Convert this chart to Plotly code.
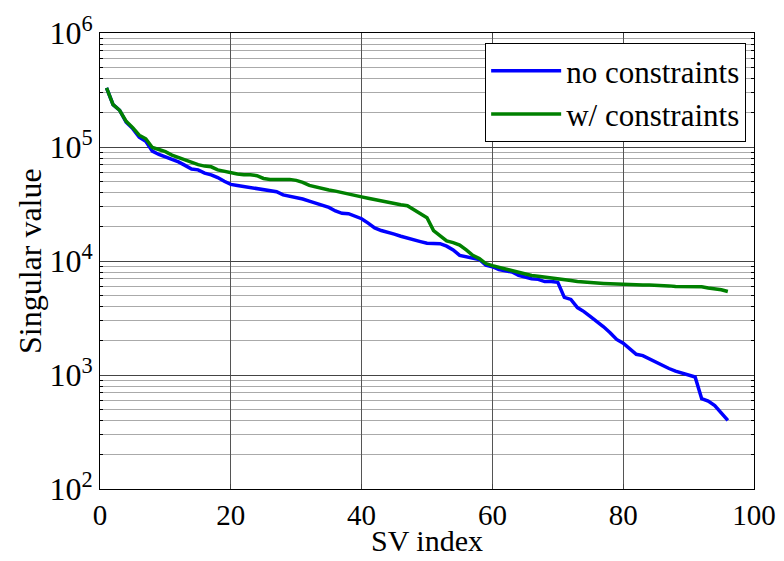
import plotly.graph_objects as go

# Singular values, indices 1..96
sv_index = list(range(1, 97))

no_constraints = [
    3.3e5, 2.35e5, 2.1e5, 1.65e5, 1.45e5, 1.22e5, 1.12e5, 9.2e4, 8.6e4, 8.2e4,
    7.8e4, 7.4e4, 6.9e4, 6.4e4, 6.3e4, 5.9e4, 5.7e4, 5.4e4, 5.0e4, 4.7e4,
    4.6e4, 4.5e4, 4.4e4, 4.3e4, 4.2e4, 4.1e4, 4.05e4, 3.8e4, 3.7e4, 3.6e4,
    3.5e4, 3.35e4, 3.2e4, 3.1e4, 2.95e4, 2.75e4, 2.62e4, 2.6e4, 2.48e4, 2.35e4,
    2.15e4, 1.95e4, 1.85e4, 1.8e4, 1.72e4, 1.65e4, 1.6e4, 1.55e4, 1.48e4, 1.43e4,
    1.43e4, 1.42e4, 1.35e4, 1.25e4, 1.12e4, 1.09e4, 1.06e4, 1.03e4, 9.2e3, 8.9e3,
    8.4e3, 8.2e3, 8.0e3, 7.5e3, 7.2e3, 7.0e3, 6.9e3, 6.6e3, 6.6e3, 6.5e3,
    4.8e3, 4.6e3, 3.9e3, 3.6e3, 3.25e3, 2.95e3, 2.65e3, 2.35e3, 2.05e3, 1.9e3,
    1.7e3, 1.52e3, 1.48e3, 1.38e3, 1.3e3, 1.22e3, 1.14e3, 1.08e3, 1.04e3, 990,
    960, 620, 590, 540, 470, 400,
]

with_constraints = [
    3.3e5, 2.35e5, 2.1e5, 1.68e5, 1.48e5, 1.27e5, 1.18e5, 9.9e4, 9.5e4, 9.1e4,
    8.5e4, 8.1e4, 7.7e4, 7.3e4, 7.0e4, 6.8e4, 6.7e4, 6.3e4, 6.1e4, 5.9e4,
    5.8e4, 5.7e4, 5.7e4, 5.6e4, 5.3e4, 5.2e4, 5.2e4, 5.2e4, 5.2e4, 5.1e4,
    4.9e4, 4.6e4, 4.45e4, 4.3e4, 4.2e4, 4.1e4, 4.0e4, 3.9e4, 3.8e4, 3.65e4,
    3.55e4, 3.45e4, 3.36e4, 3.3e4, 3.2e4, 3.12e4, 3.05e4, 2.8e4, 2.6e4, 2.4e4,
    1.85e4, 1.65e4, 1.5e4, 1.45e4, 1.38e4, 1.25e4, 1.12e4, 1.05e4, 9.5e3, 9.1e3,
    8.8e3, 8.5e3, 8.2e3, 7.9e3, 7.6e3, 7.45e3, 7.35e3, 7.25e3, 7.05e3, 6.95e3,
    6.85e3, 6.75e3, 6.6e3, 6.5e3, 6.45e3, 6.4e3, 6.35e3, 6.3e3, 6.3e3, 6.2e3,
    6.15e3, 6.15e3, 6.15e3, 6.15e3, 6.15e3, 6.15e3, 6.05e3, 5.98e3, 5.97e3, 5.96e3,
    5.96e3, 5.95e3, 5.8e3, 5.72e3, 5.6e3, 5.4e3,
]

x_ticks = [0, 20, 40, 60, 80, 100]
y_ticks = [1e2, 1e3, 1e4, 1e5, 1e6]
y_tick_text = ["10<sup>2</sup>", "10<sup>3</sup>", "10<sup>4</sup>",
               "10<sup>5</sup>", "10<sup>6</sup>"]

FONT = "Liberation Serif"

fig = go.Figure()
fig.add_trace(go.Scatter(x=sv_index, y=no_constraints, mode="lines",
                         name="no constraints",
                         line=dict(color="#0000FF", width=3.5)))
fig.add_trace(go.Scatter(x=sv_index, y=with_constraints, mode="lines",
                         name="w/ constraints",
                         line=dict(color="#008000", width=3.5)))

fig.update_layout(
    width=784, height=561,
    margin=dict(l=100, r=30, t=33, b=72),
    paper_bgcolor="white", plot_bgcolor="white",
    font=dict(family=FONT, size=32, color="black"),
    showlegend=True,
    legend=dict(x=0.988, y=0.978, xanchor="right", yanchor="top",
                bgcolor="white", bordercolor="black", borderwidth=1,
                font=dict(family=FONT, size=31), tracegroupgap=0,
                itemwidth=70),
)

fig.update_xaxes(
    range=[0, 100], tickvals=x_ticks, ticks="inside", ticklen=5,
    showline=True, linecolor="black", linewidth=1, mirror="ticks",
    showgrid=True, gridcolor="#555555", gridwidth=1, zeroline=False,
    tickfont=dict(family=FONT, size=29), automargin=False,
)

fig.update_yaxes(
    type="log", range=[2, 6], tickvals=y_ticks, ticktext=y_tick_text,
    ticks="inside", ticklen=5,
    showline=True, linecolor="black", linewidth=1, mirror="ticks",
    showgrid=True, gridcolor="#444444", gridwidth=1, zeroline=False,
    minor=dict(dtick="D1", ticks="inside", ticklen=3, tickcolor="black",
               showgrid=True, gridcolor="#aaaaaa", gridwidth=1),
    tickfont=dict(family=FONT, size=32), automargin=False,
)

# Axis titles placed as annotations for precise positioning
fig.add_annotation(text="SV index", xref="paper", yref="paper",
                   x=0.5, y=-0.114, xanchor="center", yanchor="middle",
                   showarrow=False, font=dict(family=FONT, size=30))
fig.add_annotation(text="Singular value", xref="paper", yref="paper",
                   x=-0.107, y=0.5, xanchor="center", yanchor="middle",
                   textangle=-90, showarrow=False,
                   font=dict(family=FONT, size=32))

fig.write_html("out.html")
